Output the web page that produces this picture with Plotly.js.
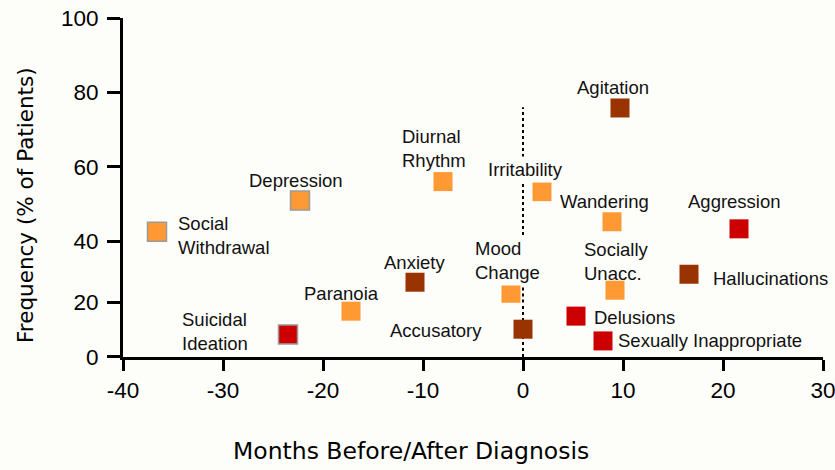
<!DOCTYPE html>
<html>
<head>
<meta charset="utf-8">
<script src="https://cdn.plot.ly/plotly-3.0.1.min.js"></script>
<style>
  html, body { margin: 0; padding: 0; background: #fdfdf9; }
  #chart { width: 835px; height: 470px; }
</style>
</head>
<body>
<div id="chart"></div>
<script>
// ---------------- DATA ----------------
const symptoms = ['Social Withdrawal', 'Suicidal Ideation', 'Depression', 'Paranoia', 'Anxiety',
  'Diurnal Rhythm', 'Mood Change', 'Accusatory', 'Irritability', 'Agitation', 'Wandering',
  'Socially Unacc.', 'Delusions', 'Sexually Inappropriate', 'Aggression', 'Hallucinations'];
const labels = ['Social<br>Withdrawal', 'Suicidal<br>Ideation', 'Depression', 'Paranoia', 'Anxiety',
  'Diurnal<br>Rhythm', 'Mood<br>Change', 'Accusatory', 'Irritability', 'Agitation', 'Wandering',
  'Socially<br>Unacc.', 'Delusions', 'Sexually Inappropriate', 'Aggression', 'Hallucinations'];
const months = [-36.6, -23.5, -22.3, -17.2, -10.8, -8.0, -1.2, 0.0, 1.9, 9.7, 8.9, 9.2, 5.3, 8.0, 21.6, 16.6];
const frequency = [42.5, 8.3, 50.9, 16.8, 26.6, 56.0, 23.0, 10.2, 53.3, 75.8, 45.2, 24.0, 15.0, 5.9, 43.3, 29.2];
const group = ['light', 'red', 'light', 'light', 'dark', 'light', 'light', 'dark', 'light', 'dark',
  'light', 'light', 'red', 'red', 'red', 'dark'];
const xTicks = [-40, -30, -20, -10, 0, 10, 20, 30];
const yTicks = [0, 20, 40, 60, 80, 100];
const diagnosisMonth = 0;
const diagnosisLineTop = 76;
const xTitle = 'Months Before/After Diagnosis';
const yTitle = 'Frequency (% of Patients)';

// ---------------- STYLE ----------------
const BG = '#fdfdf9';
const groupColor = { light: '#ff9933', dark: '#993300', red: '#cc0000' };
const outlined = new Set(['Social Withdrawal', 'Depression', 'Suicidal Ideation']);
const withBackground = new Set(['Irritability', 'Mood Change']);
const labelFont = { family: 'Liberation Sans, Arial, sans-serif', size: 18.5, color: '#111111' };
const tickFont = { family: 'Liberation Sans, Arial, sans-serif', size: 22.5, color: '#000000' };
const xTitleFont = { family: 'DejaVu Sans, Tahoma, sans-serif', size: 23.5, color: '#000000' };
const yTitleFont = { family: 'DejaVu Sans, Tahoma, sans-serif', size: 21.5, color: '#000000' };
// label placement relative to its marker (pixels)
const labelPlace = {
  'Social Withdrawal':      { xa: 'left',   dx: 19,  dy: -4,  align: 'left' },
  'Suicidal Ideation':      { xa: 'right',  dx: -38, dy: 3,   align: 'left' },
  'Depression':             { xa: 'center', dx: -4,  dy: 20,  align: 'center' },
  'Paranoia':               { xa: 'center', dx: -10, dy: 18,  align: 'center' },
  'Anxiety':                { xa: 'center', dx: -1,  dy: 20,  align: 'center' },
  'Diurnal Rhythm':         { xa: 'left',   dx: -43, dy: 33,  align: 'left' },
  'Mood Change':            { xa: 'left',   dx: -39, dy: 33,  align: 'left' },
  'Accusatory':             { xa: 'right',  dx: -39, dy: -1,  align: 'left' },
  'Irritability':           { xa: 'center', dx: -17, dy: 22,  align: 'center' },
  'Agitation':              { xa: 'center', dx: -7,  dy: 20,  align: 'center' },
  'Wandering':              { xa: 'center', dx: -8,  dy: 20,  align: 'center' },
  'Socially Unacc.':        { xa: 'left',   dx: -33, dy: 29,  align: 'left' },
  'Delusions':              { xa: 'left',   dx: 16,  dy: -1,  align: 'left' },
  'Sexually Inappropriate': { xa: 'left',   dx: 13,  dy: 0,   align: 'left' },
  'Aggression':             { xa: 'center', dx: -5,  dy: 27,  align: 'center' },
  'Hallucinations':         { xa: 'left',   dx: 22,  dy: -4,  align: 'left' }
};

// The original y axis has unequal spacing between its ticks, so it is built
// from linear pieces stacked on top of each other.
const yBreaks = [0, 20, 40, 100];
const segDomains = [[0, 0.1608], [0.1608, 0.3419], [0.3419, 1]];
const segRefs = ['y', 'y2', 'y3'];
const segKeys = ['yaxis', 'yaxis2', 'yaxis3'];
function segOf(v) {
  for (let s = 0; s < segDomains.length; s++) {
    if (v < yBreaks[s + 1]) return s;
  }
  return segDomains.length - 1;
}

// ---------------- TRACES ----------------
const traces = [];
for (let s = 0; s < segDomains.length; s++) {
  const idx = frequency.map((v, i) => i).filter(i => segOf(frequency[i]) === s);
  traces.push({
    type: 'scatter',
    mode: 'markers',
    x: idx.map(i => months[i]),
    y: idx.map(i => frequency[i]),
    text: idx.map(i => symptoms[i]),
    xaxis: 'x',
    yaxis: segRefs[s],
    cliponaxis: false,
    hoverinfo: 'text+x+y',
    showlegend: false,
    marker: {
      symbol: 'square',
      size: 19,
      color: idx.map(i => groupColor[group[i]]),
      line: {
        color: idx.map(i => outlined.has(symptoms[i]) ? '#9a9a9a' : groupColor[group[i]]),
        width: idx.map(i => outlined.has(symptoms[i]) ? 1.5 : 0)
      }
    }
  });
}

// ---------------- ANNOTATIONS ----------------
const annotations = symptoms.map((name, i) => {
  const p = labelPlace[name];
  const a = {
    x: months[i], y: frequency[i],
    xref: 'x', yref: segRefs[segOf(frequency[i])],
    text: labels[i],
    showarrow: false,
    xanchor: p.xa, yanchor: 'middle',
    xshift: p.dx, yshift: p.dy,
    align: p.align,
    font: labelFont
  };
  if (withBackground.has(name)) { a.bgcolor = BG; a.borderpad = 2; }
  return a;
});
annotations.push({
  xref: 'paper', yref: 'paper', x: 0.4114, y: -0.277,
  xanchor: 'center', yanchor: 'middle', showarrow: false,
  text: xTitle, font: xTitleFont
});
annotations.push({
  xref: 'paper', yref: 'paper', x: -0.1386, y: 0.4484,
  xanchor: 'center', yanchor: 'middle', showarrow: false, textangle: -90,
  text: yTitle, font: yTitleFont
});

// ---------------- DIAGNOSIS LINE ----------------
const shapes = [];
for (let s = 0; s < segDomains.length; s++) {
  const lo = Math.max(yBreaks[s], 0);
  const hi = Math.min(yBreaks[s + 1], diagnosisLineTop);
  if (hi > lo) {
    shapes.push({
      type: 'line', xref: 'x', yref: segRefs[s],
      x0: diagnosisMonth, x1: diagnosisMonth, y0: lo, y1: hi,
      layer: 'below',
      line: { color: '#000000', width: 2, dash: 'dot' }
    });
  }
}

// ---------------- LAYOUT ----------------
const layout = {
  width: 835, height: 470,
  margin: { l: 123, r: 12, t: 18, b: 113 },
  paper_bgcolor: BG,
  plot_bgcolor: 'rgba(0,0,0,0)',
  showlegend: false,
  hovermode: 'closest',
  xaxis: {
    range: [xTicks[0], xTicks[xTicks.length - 1]],
    tickmode: 'array', tickvals: xTicks, ticktext: xTicks.map(String),
    showline: true, linecolor: '#000000', linewidth: 3,
    ticks: 'outside', ticklen: 11, tickwidth: 3, tickcolor: '#000000',
    ticklabeloverflow: 'allow',
    showgrid: false, zeroline: false,
    tickfont: tickFont, anchor: 'y', fixedrange: true
  },
  annotations: annotations,
  shapes: shapes
};
for (let s = 0; s < segDomains.length; s++) {
  const lo = yBreaks[s], hi = yBreaks[s + 1];
  // each tick value is shown once, on the lowest piece that contains it
  const tv = yTicks.filter(t => t <= hi && (s === 0 ? t >= lo : t > lo));
  layout[segKeys[s]] = {
    domain: segDomains[s],
    range: [lo, hi],
    anchor: 'x',
    tickmode: 'array', tickvals: tv, ticktext: tv.map(String),
    showline: true, linecolor: '#000000', linewidth: 3,
    ticks: 'outside', ticklen: 13, tickwidth: 3, tickcolor: '#000000',
    ticklabelstandoff: 4,
    ticklabeloverflow: 'allow',
    showgrid: false, zeroline: false,
    tickfont: tickFont, fixedrange: true
  };
}

Plotly.newPlot('chart', traces, layout, { displayModeBar: false, staticPlot: false });
</script>
</body>
</html>
